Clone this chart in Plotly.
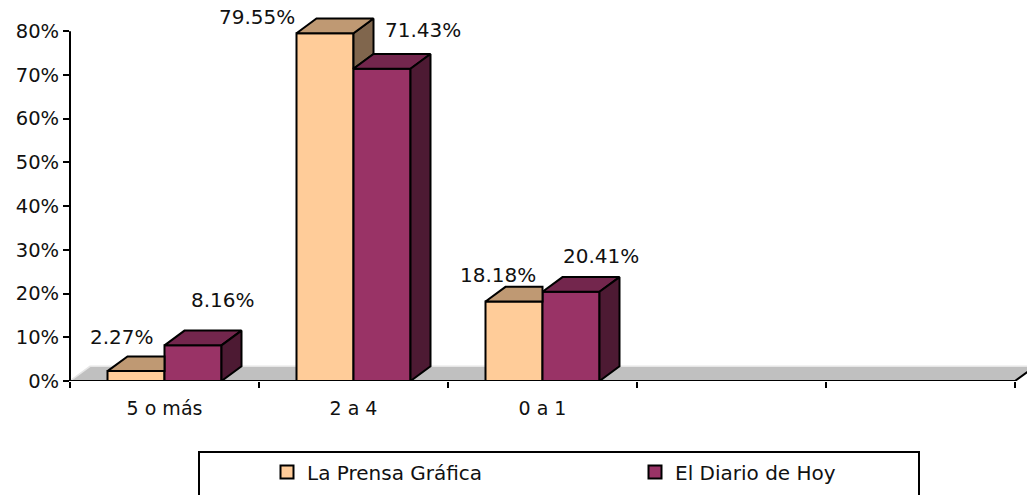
import plotly.graph_objects as go

# ---------------- data ----------------
categories = ["5 o más", "2 a 4", "0 a 1"]
n_slots = 5                      # category slots on the axis (last two are empty)
series_names = ["La Prensa Gráfica", "El Diario de Hoy"]
lpg_values = [2.27, 79.55, 18.18]
edh_values = [8.16, 71.43, 20.41]
y_tick_values = [0, 10, 20, 30, 40, 50, 60, 70, 80]
y_tick_labels = [f"{v}%" for v in y_tick_values]

# ---------------- styles ----------------
front_colors = ["#FFCC99", "#993366"]
top_colors = ["#BF9973", "#73264D"]
side_colors = ["#80664D", "#4D1A33"]
floor_color = "#C0C0C0"
FONT = "DejaVu Sans"
TXT = "#111111"

W, H = 1027, 495
M_L, M_R, M_T, M_B = 70, 0, 5, 114
PX_PER_SLOT = 189.0
plot_w = W - M_L - M_R
plot_h = H - M_T - M_B
Y_MAX = 86.0
x_range = [-0.5, -0.5 + plot_w / PX_PER_SLOT]
px_per_unit_y = plot_h / Y_MAX

BAR_W = 57 / PX_PER_SLOT          # width of one bar in slot units
DX = 20 / PX_PER_SLOT             # 3-D depth, horizontal (data units)
DY = 14.7 / px_per_unit_y         # 3-D depth, vertical (data units)

# label offsets (pixels) relative to the top-centre of each bar's front face
label_dx = [[-14, -68, -16.5], [29.5, 40.5, 30]]
label_dy = [[34.4, 16, 26.5], [45.3, 39.2, 35.8]]

fig = go.Figure()

values = [lpg_values, edh_values]
idx = list(range(len(categories)))
centers = [[i - BAR_W / 2 for i in idx], [i + BAR_W / 2 for i in idx]]

# front faces (real bars)
for s in range(2):
    fig.add_trace(go.Bar(
        x=centers[s], y=values[s], width=BAR_W, name=series_names[s],
        marker=dict(color=front_colors[s], line=dict(color="black", width=2)),
        showlegend=False, hoverinfo="y",
    ))


def face(pts, color):
    xs = [p[0] for p in pts] + [pts[0][0]]
    ys = [p[1] for p in pts] + [pts[0][1]]
    return go.Scatter(x=xs, y=ys, mode="lines", fill="toself", fillcolor=color,
                      line=dict(color="black", width=2), hoverinfo="skip",
                      showlegend=False)


# top and side faces derived from the values
for i in idx:
    vL, vE = lpg_values[i], edh_values[i]
    x0 = i - BAR_W
    x1 = i
    x2 = i + BAR_W
    if vL > vE:
        fig.add_trace(face([(x1, vE), (x1, vL), (x1 + DX, vL + DY), (x1 + DX, vE + DY)], side_colors[0]))
        fig.add_trace(face([(x0, vL), (x1, vL), (x1 + DX, vL + DY), (x0 + DX, vL + DY)], top_colors[0]))
    else:
        fig.add_trace(face([(x0, vL), (x1, vL), (x1, vL + DY), (x0 + DX, vL + DY)], top_colors[0]))
    fig.add_trace(face([(x1, vE), (x2, vE), (x2 + DX, vE + DY), (x1 + DX, vE + DY)], top_colors[1]))
    fig.add_trace(face([(x2, 0), (x2, vE), (x2 + DX, vE + DY), (x2 + DX, DY)], side_colors[1]))

# legend-only entries
for s in range(2):
    fig.add_trace(go.Scatter(
        x=[None], y=[None], mode="markers", name=series_names[s],
        marker=dict(symbol="square", size=13, color=front_colors[s],
                    line=dict(color="black", width=2)),
    ))

# data labels
annotations = []
for s in range(2):
    for i in idx:
        annotations.append(dict(
            x=centers[s][i], y=values[s][i], xref="x", yref="y",
            text=f"{values[s][i]:.2f}%", showarrow=False,
            xanchor="center", yanchor="middle",
            xshift=label_dx[s][i], yshift=label_dy[s][i],
            font=dict(family=FONT, size=20, color=TXT),
        ))

x_end = n_slots - 0.5
shapes = [
    # floor
    dict(type="path", xref="x", yref="y", layer="below",
         path=f"M {-0.5},0 L {x_end},0 L {x_end + DX},{DY} L {-0.5 + DX},{DY} Z",
         fillcolor=floor_color, line=dict(width=0)),
    dict(type="path", xref="x", yref="y", layer="below",
         path=f"M {-0.5},0 L {-0.5 + DX},{DY} L {x_end + DX},{DY}",
         line=dict(color="#E6E6E6", width=1.5)),
    # category axis line along the front of the floor
    dict(type="path", xref="x", yref="y", layer="above",
         path=f"M {-0.5},0 L {x_end},0 L {x_end + DX},{DY}",
         line=dict(color="black", width=2)),
    # value axis line
    dict(type="line", xref="paper", yref="y", x0=0, x1=0,
         y0=0, y1=max(y_tick_values), layer="above",
         line=dict(color="black", width=2)),
    # legend frame
    dict(type="rect", xref="paper", yref="paper",
         x0=(199 - M_L) / plot_w, x1=(919 - M_L) / plot_w,
         y0=(M_T + plot_h - 452) / plot_h, y1=(M_T + plot_h - 505) / plot_h,
         line=dict(color="black", width=2), fillcolor="rgba(0,0,0,0)"),
]

fig.update_layout(
    width=W, height=H,
    margin=dict(l=M_L, r=M_R, t=M_T, b=M_B, pad=0),
    paper_bgcolor="white", plot_bgcolor="white",
    barmode="overlay",
    font=dict(family=FONT, color=TXT),
    xaxis=dict(
        range=x_range, showgrid=False, zeroline=False, showline=False,
        tickmode="array", tickvals=idx, ticktext=categories,
        ticks="outside", ticklen=10, tickcolor="rgba(0,0,0,0)",
        tickfont=dict(family=FONT, size=19, color=TXT),
        minor=dict(ticks="outside", tickmode="array",
                   tickvals=[k - 0.5 for k in range(n_slots + 1)],
                   ticklen=6, tickwidth=2, tickcolor="black"),
        fixedrange=True,
    ),
    yaxis=dict(
        range=[0, Y_MAX], showgrid=False, zeroline=False, showline=False,
        tickmode="array", tickvals=y_tick_values, ticktext=y_tick_labels,
        ticks="outside", ticklen=6, tickwidth=2, tickcolor="black",
        tickfont=dict(family=FONT, size=19.5, color=TXT),
        fixedrange=True,
    ),
    legend=dict(
        orientation="h", xref="container", yref="container",
        x=267 / W, xanchor="left", y=1 - 472 / H, yanchor="middle",
        entrywidth=323, entrywidthmode="pixels",
        font=dict(family=FONT, size=20, color=TXT),
        bgcolor="rgba(0,0,0,0)", borderwidth=0,
    ),
    annotations=annotations,
    shapes=shapes,
)

fig.write_html("out.html", config={"displayModeBar": False},
               post_script="document.body.style.margin='0px';")
